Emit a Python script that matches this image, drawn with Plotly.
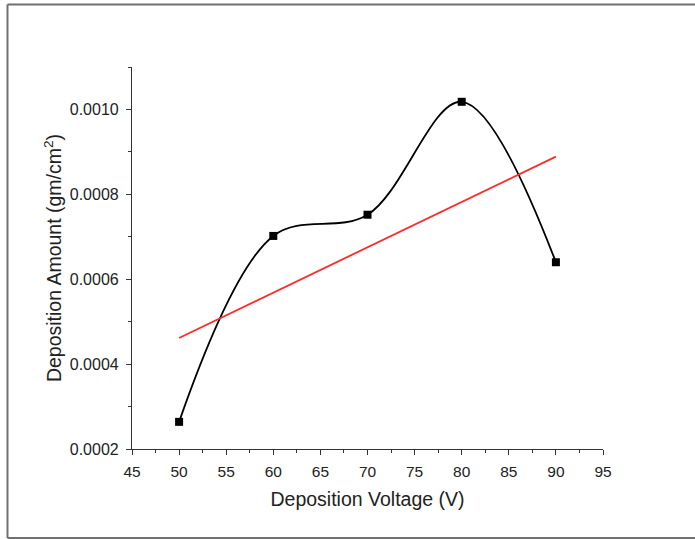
import numpy as np
import plotly.graph_objects as go

# Deposition voltage (V) and measured deposition amount (gm/cm^2)
voltage = [50, 60, 70, 80, 90]
amount = [0.000264, 0.000702, 0.000752, 0.001018, 0.000640]

x_ticks = [45, 50, 55, 60, 65, 70, 75, 80, 85, 90, 95]
y_ticks = [0.0002, 0.0004, 0.0006, 0.0008, 0.0010]

# Linear least-squares fit over the measured points
slope, intercept = np.polyfit(voltage, amount, 1)
fit_x = [voltage[0], voltage[-1]]
fit_y = [slope * v + intercept for v in fit_x]

W, H = 695, 539
L, R, T, B = 132, 92, 67, 90
pw, ph = W - L - R, H - T - B
FONT = "Liberation Sans, Arial, Helvetica, sans-serif"

fig = go.Figure()

fig.add_trace(go.Scatter(
    x=voltage, y=amount, mode="lines+markers",
    line=dict(color="black", width=1.8, shape="spline", smoothing=1.0),
    marker=dict(symbol="square", size=8, color="black"),
    showlegend=False,
))

fig.add_trace(go.Scatter(
    x=fit_x, y=fit_y, mode="lines",
    line=dict(color="#ff2a2a", width=1.8),
    showlegend=False,
))

axis_common = dict(
    showgrid=False, zeroline=False, showline=True,
    linecolor="#333", linewidth=1.2,
    ticks="outside", ticklen=5, tickwidth=1.2, tickcolor="#333",
    mirror=False,
)

fig.update_xaxes(
    range=[45, 95], tickvals=x_ticks, ticktext=[str(v) for v in x_ticks],
    tickfont=dict(family=FONT, size=15.5, color="#222"),
    ticklabelstandoff=3,
    minor=dict(dtick=2.5, ticks="outside", ticklen=3, tickwidth=1.2, tickcolor="#333"),
    title=dict(text="Deposition Voltage (V)", standoff=13,
               font=dict(family=FONT, size=19.5, color="#222")),
    **axis_common,
)
fig.update_yaxes(
    range=[0.0002, 0.0011], tickvals=y_ticks, ticktext=[f"{v:.4f}" for v in y_ticks],
    tickfont=dict(family=FONT, size=16, color="#222"),
    ticklabelstandoff=4,
    minor=dict(dtick=0.0001, tick0=0.0002, ticks="outside", ticklen=3, tickwidth=1.2, tickcolor="#333"),
    title=dict(text="Deposition Amount (gm/cm<sup>2</sup>)", standoff=2,
               font=dict(family=FONT, size=19.5, color="#222")),
    **axis_common,
)

# Frame around the figure: left, top and bottom edges
fx0 = (7.5 - L) / pw
fx1 = (W + 30 - L) / pw
fy0 = (T + ph - 538) / ph
fy1 = (T + ph - 4.5) / ph
frame_line = dict(color="#707070", width=2)
for x0, y0, x1, y1 in [(fx0, fy0, fx0, fy1), (fx0, fy1, fx1, fy1), (fx0, fy0, fx1, fy0)]:
    fig.add_shape(type="line", xref="paper", yref="paper",
                  x0=x0, y0=y0, x1=x1, y1=y1, line=frame_line)

fig.update_layout(
    width=W, height=H,
    margin=dict(l=L, r=R, t=T, b=B),
    paper_bgcolor="white", plot_bgcolor="white",
)

fig.write_html("out.html")
